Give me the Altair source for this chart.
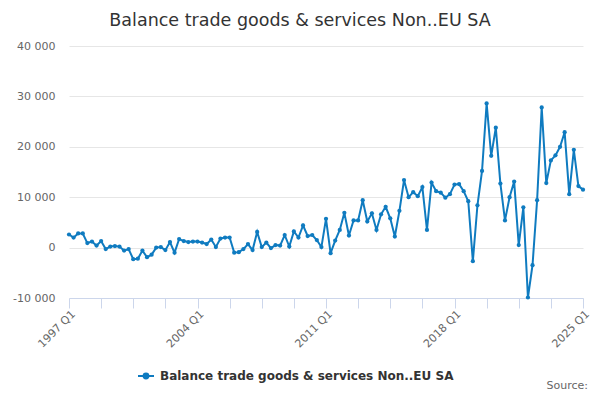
import altair as alt
import pandas as pd

chart_title = "Balance trade goods & services Non..EU SA"
series_name = "Balance trade goods & services Non..EU SA"
source_text = "Source:"
start_year = 1997

values = [
    2600, 2000, 2800, 2800,      # 1997
    900, 1200, 400, 1300,        # 1998
    -300, 200, 300, 200,         # 1999
    -600, -300, -2300, -2200,    # 2000
    -600, -1900, -1400, 0,       # 2001
    100, -500, 1100, -1000,      # 2002
    1700, 1300, 1100, 1200,      # 2003
    1200, 1000, 700, 1600,       # 2004
    100, 1800, 2000, 2000,       # 2005
    -1000, -900, -300, 700,      # 2006
    -500, 3100, 100, 1000,       # 2007
    -100, 500, 400, 2500,        # 2008
    200, 3200, 2000, 4400,       # 2009
    2300, 2500, 1500, 100,       # 2010
    5700, -1100, 1400, 3500,     # 2011
    6900, 2400, 5400, 5400,      # 2012
    9400, 5200, 6800, 3500,      # 2013
    6600, 8100, 5800, 2200,      # 2014
    7300, 13400, 10000, 11000,   # 2015
    10200, 12000, 3500, 12900,   # 2016
    11200, 10900, 9900, 10600,   # 2017
    12500, 12600, 11200, 9200,   # 2018
    -2700, 8400, 15200, 28600,   # 2019
    18200, 23800, 12700, 5400,   # 2020
    10000, 13100, 500, 8000,     # 2021
    -9900, -3500, 9400, 27800,   # 2022
    12800, 17300, 18300, 20000,  # 2023
    22900, 10600, 19400, 12200,  # 2024
    11500,                       # 2025
]
tick_labels = ["1997 Q1", "2004 Q1", "2011 Q1", "2018 Q1", "2025 Q1"]
y_ticks = [-10000, 0, 10000, 20000, 30000, 40000]

quarters = [f"{start_year + i // 4} Q{i % 4 + 1}" for i in range(len(values))]
df = pd.DataFrame({
    "idx": list(range(len(values))),
    "quarter": quarters,
    "value": values,
    "series": [series_name] * len(values),
})

line_color = "#0f7bc0"
font = "DejaVu Sans"
n = len(values) - 1
label_step = n // (len(tick_labels) - 1)
x_tick_values = list(range(0, n + 1, 7))
label_array = "[" + ",".join(f"'{t}'" for t in tick_labels) + "]"
x_label_expr = f"datum.value % {label_step} == 0 ? {label_array}[datum.value / {label_step}] : ''"
y_label_expr = "(datum.value < 0 ? '-' : '') + replace(format(abs(datum.value), ','), ',', ' ')"

legend_symbol = "M-1,0L1,0M0.3,0A0.3,0.3,0,1,1,-0.3,0A0.3,0.3,0,1,1,0.3,0Z"

base = alt.Chart(df).mark_line(
    strokeWidth=2,
    point=alt.OverlayMarkDef(filled=True, size=18, color=line_color),
).encode(
    x=alt.X("idx:Q",
            scale=alt.Scale(domain=[0, n], nice=False, zero=False),
            axis=alt.Axis(values=x_tick_values, labelExpr=x_label_expr, labelAngle=-45,
                          labelAlign="right", labelBaseline="top", labelFontSize=11,
                          labelColor="#666666", labelFont=font, domainColor="#ccd6eb",
                          tickColor="#ccd6eb", tickSize=10, grid=False, title=None,
                          labelPadding=0, labelOverlap=False)),
    y=alt.Y("value:Q",
            scale=alt.Scale(domain=[-10000, 40000], nice=False),
            axis=alt.Axis(values=y_ticks, labelExpr=y_label_expr, labelFontSize=11,
                          labelColor="#666666", labelFont=font, domain=False, ticks=False,
                          gridColor="#e6e6e6", title=None, labelPadding=14)),
    color=alt.Color("series:N",
                    scale=alt.Scale(range=[line_color]),
                    legend=alt.Legend(title=None, orient="none", legendX=68, legendY=321,
                                      symbolType=legend_symbol, symbolSize=256,
                                      symbolStrokeWidth=2, symbolFillColor=line_color,
                                      labelFont=font, labelFontSize=12, labelFontWeight="bold",
                                      labelColor="#333333", labelOffset=5, labelLimit=0)),
    tooltip=["quarter:N", "value:Q"],
)

source = alt.Chart(pd.DataFrame({"t": [source_text]})).mark_text(
    align="right", baseline="alphabetic", font=font, fontSize=11, color="#666666"
).encode(text="t:N", x=alt.value(519), y=alt.value(343))

chart = alt.layer(base, source).properties(
    width=514,
    height=252,
    autosize=alt.AutoSizeParams(type="none"),
    padding={"left": 61, "top": 38, "right": 9, "bottom": 94},
    title=alt.TitleParams(chart_title, font=font, fontSize=17.5, fontWeight="normal",
                          color="#333333", anchor="middle", offset=11, dx=-26),
).configure_view(stroke=None)

chart.save("out.html", embed_options={"renderer": "svg", "actions": False})
